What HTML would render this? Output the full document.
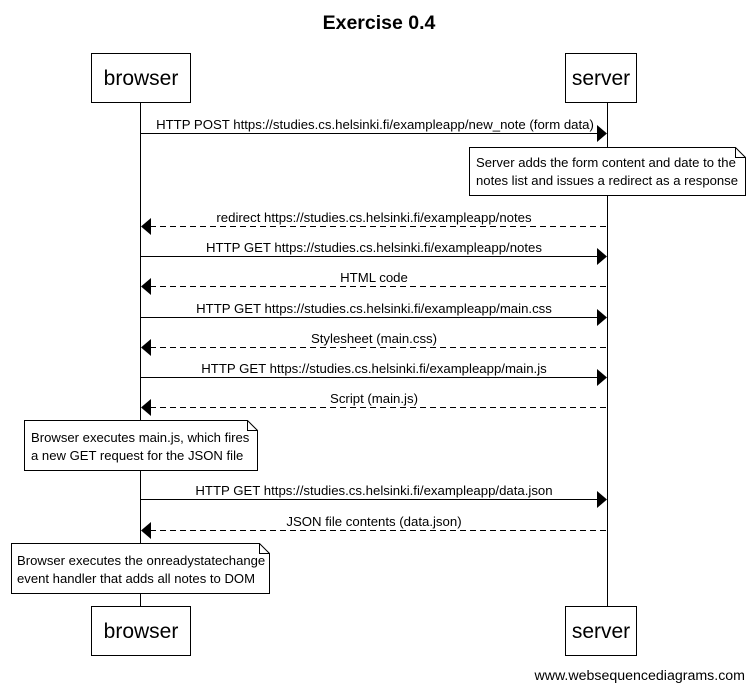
<!DOCTYPE html>
<html><head><meta charset="utf-8"><style>body{margin:0;background:#fff}svg{display:block}text{font-family:"Liberation Sans",Arial,sans-serif;fill:#000}</style></head><body>
<svg width="754" height="689" viewBox="0 0 754 689" xmlns="http://www.w3.org/2000/svg">
<text x="379" y="29" font-size="19.5" font-weight="bold" text-anchor="middle">Exercise 0.4</text>
<g stroke="#000" fill="none" stroke-width="1">
<line x1="140.5" y1="102" x2="140.5" y2="607"/>
<line x1="607.5" y1="102" x2="607.5" y2="607"/>
<rect x="91.5" y="53.5" width="99" height="49" fill="#fff"/>
<rect x="565.5" y="53.5" width="71" height="49" fill="#fff"/>
<rect x="91.5" y="606.5" width="99" height="49" fill="#fff"/>
<rect x="565.5" y="606.5" width="71" height="49" fill="#fff"/>
<path d="M469.5 147.5 H735.5 L745.5 157.5 V195.5 H469.5 Z M735.5 147.5 V157.5 H745.5" fill="#fff"/>
<path d="M24.5 420.5 H247.5 L257.5 430.5 V470.5 H24.5 Z M247.5 420.5 V430.5 H257.5" fill="#fff"/>
<path d="M11.5 543.5 H259.5 L269.5 553.5 V593.5 H11.5 Z M259.5 543.5 V553.5 H269.5" fill="#fff"/>
<line x1="140" y1="133.5" x2="598" y2="133.5"/>
<line x1="150" y1="226.5" x2="607" y2="226.5" stroke-dasharray="6,4"/>
<line x1="140" y1="256.5" x2="598" y2="256.5"/>
<line x1="150" y1="286.5" x2="607" y2="286.5" stroke-dasharray="6,4"/>
<line x1="140" y1="317.5" x2="598" y2="317.5"/>
<line x1="150" y1="347.5" x2="607" y2="347.5" stroke-dasharray="6,4"/>
<line x1="140" y1="377.5" x2="598" y2="377.5"/>
<line x1="150" y1="407.5" x2="607" y2="407.5" stroke-dasharray="6,4"/>
<line x1="140" y1="499.5" x2="598" y2="499.5"/>
<line x1="150" y1="530.5" x2="607" y2="530.5" stroke-dasharray="6,4"/>
</g>
<g fill="#000">
<path d="M597 125 L607 133.5 L597 142Z"/><path d="M151 218 L141 226.5 L151 235Z"/>
<path d="M597 248 L607 256.5 L597 265Z"/><path d="M151 278 L141 286.5 L151 295Z"/>
<path d="M597 309 L607 317.5 L597 326Z"/><path d="M151 339 L141 347.5 L151 356Z"/>
<path d="M597 369 L607 377.5 L597 386Z"/><path d="M151 399 L141 407.5 L151 416Z"/>
<path d="M597 491 L607 499.5 L597 508Z"/><path d="M151 522 L141 530.5 L151 539Z"/>
</g>
<g font-size="21" text-anchor="middle">
<text x="141" y="85">browser</text><text x="601" y="85">server</text>
<text x="141" y="638">browser</text><text x="601" y="638">server</text>
</g>
<g font-size="13.2" text-anchor="middle">
<text x="375" y="129">HTTP POST https://studies.cs.helsinki.fi/exampleapp/new_note (form data)</text>
<text x="374" y="222">redirect https://studies.cs.helsinki.fi/exampleapp/notes</text>
<text x="374" y="252">HTTP GET https://studies.cs.helsinki.fi/exampleapp/notes</text>
<text x="374" y="282">HTML code</text>
<text x="374" y="313">HTTP GET https://studies.cs.helsinki.fi/exampleapp/main.css</text>
<text x="374" y="343">Stylesheet (main.css)</text>
<text x="374" y="373">HTTP GET https://studies.cs.helsinki.fi/exampleapp/main.js</text>
<text x="374" y="403">Script (main.js)</text>
<text x="374" y="495">HTTP GET https://studies.cs.helsinki.fi/exampleapp/data.json</text>
<text x="374" y="526">JSON file contents (data.json)</text>
</g>
<g font-size="13.1">
<text x="476" y="167">Server adds the form content and date to the</text>
<text x="476" y="185">notes list and issues a redirect as a response</text>
<text x="31" y="442">Browser executes main.js, which fires</text>
<text x="31" y="460">a new GET request for the JSON file</text>
<text x="17" y="565">Browser executes the onreadystatechange</text>
<text x="17" y="583">event handler that adds all notes to DOM</text>
<text x="745" y="680" font-size="14.2" text-anchor="end">www.websequencediagrams.com</text>
</g>
</svg>
</body></html>
